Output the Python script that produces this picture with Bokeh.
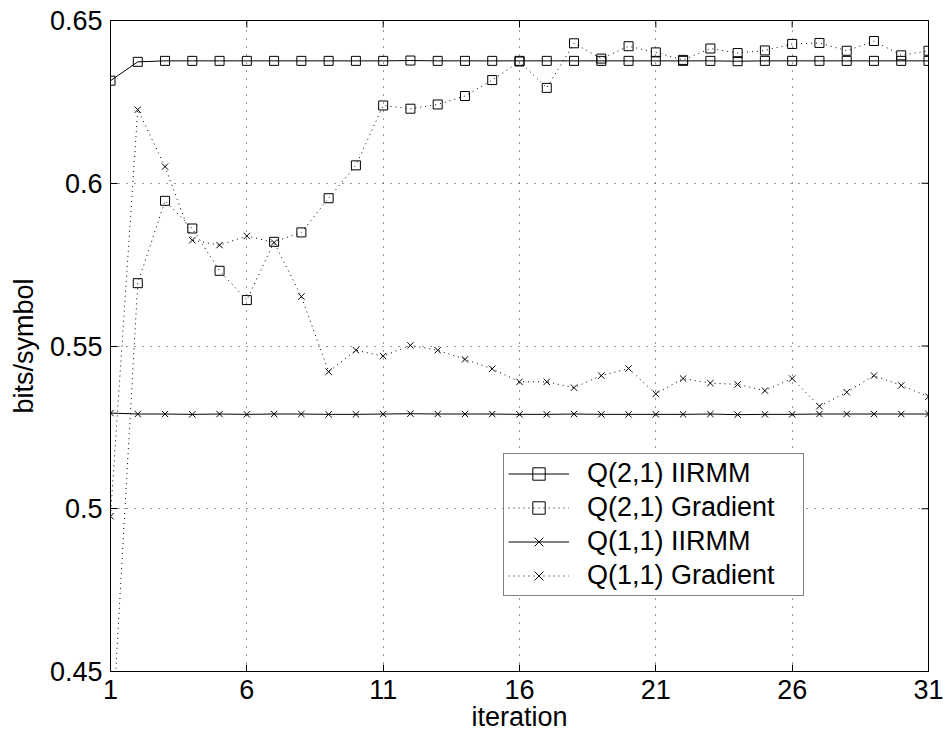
import math
from bokeh.plotting import figure
from bokeh.models import (FixedTicker, CustomJSTickFormatter, Legend, LegendItem, Range1d)
from bokeh.embed import file_html
from bokeh.resources import INLINE

# ---- data ----
iterations = list(range(1, 32))
x_ticks = [1, 6, 11, 16, 21, 26, 31]
y_ticks = [0.45, 0.5, 0.55, 0.6, 0.65]

q21_iirmm = [0.6315, 0.6373, 0.6376, 0.6376, 0.6376, 0.6376, 0.6376, 0.6376,
             0.6376, 0.6376, 0.6376, 0.6377, 0.6376, 0.6376, 0.6376, 0.6376,
             0.6376, 0.6376, 0.6376, 0.6376, 0.6376, 0.6376, 0.6376, 0.6375,
             0.6376, 0.6376, 0.6376, 0.6376, 0.6376, 0.6376, 0.6376]
q21_grad = [0.4217, 0.5693, 0.5946, 0.5861, 0.5731, 0.5641, 0.5820, 0.5849,
            0.5954, 0.6055, 0.6239, 0.6229, 0.6242, 0.6268, 0.6317, 0.6374,
            0.6293, 0.6430, 0.6383, 0.6421, 0.6402, 0.6379, 0.6414, 0.6400,
            0.6408, 0.6428, 0.6431, 0.6407, 0.6437, 0.6393, 0.6407]
q11_iirmm = [0.5294, 0.5291, 0.5291, 0.5290, 0.5291, 0.5290, 0.5291, 0.5291,
             0.5290, 0.5290, 0.5291, 0.5292, 0.5291, 0.5291, 0.5291, 0.5290,
             0.5290, 0.5291, 0.5290, 0.5290, 0.5290, 0.5290, 0.5291, 0.5289,
             0.5290, 0.5290, 0.5291, 0.5291, 0.5291, 0.5291, 0.5291]
q11_grad = [0.4977, 0.6226, 0.6051, 0.5825, 0.5810, 0.5838, 0.5818, 0.5652,
            0.5421, 0.5487, 0.5469, 0.5502, 0.5487, 0.5459, 0.5430, 0.5390,
            0.5390, 0.5372, 0.5409, 0.5431, 0.5353, 0.5400, 0.5386, 0.5382,
            0.5363, 0.5400, 0.5315, 0.5358, 0.5409, 0.5379, 0.5344]

labels = ["Q(2,1) IIRMM", "Q(2,1) Gradient", "Q(1,1) IIRMM", "Q(1,1) Gradient"]

FONT = "Liberation Sans"
FS = "27px"

x_lo, x_hi = x_ticks[0], x_ticks[-1]
y_lo, y_hi = y_ticks[0], y_ticks[-1]

p = figure(width=943, height=734, x_range=Range1d(x_lo, x_hi), y_range=Range1d(y_lo, y_hi),
           output_backend="svg", toolbar_location=None,
           min_border_left=110, min_border_right=15, min_border_top=20,
           min_border_bottom=60)

p.background_fill_color = "white"
p.border_fill_color = "white"
p.outline_line_color = "black"
p.outline_line_width = 1

# axes
for ax in (p.xaxis[0], p.yaxis[0]):
    ax.major_label_text_font = FONT
    ax.major_label_text_font_size = FS
    ax.major_label_text_color = "black"
    ax.axis_label_text_font = FONT
    ax.axis_label_text_font_size = FS
    ax.axis_label_text_font_style = "normal"
    ax.axis_label_text_color = "black"
    ax.major_tick_in = 7
    ax.major_tick_out = 0
    ax.minor_tick_line_color = None
    ax.axis_line_color = "black"
    ax.major_tick_line_color = "black"

p.xaxis.ticker = FixedTicker(ticks=x_ticks)
p.yaxis.ticker = FixedTicker(ticks=y_ticks)
p.yaxis.formatter = CustomJSTickFormatter(code="return String(Math.round(tick*100)/100);")
p.xaxis.axis_label = "iteration"
p.yaxis.axis_label = "bits/symbol"
p.xaxis.major_label_standoff = 8
p.xaxis.axis_label_standoff = 0
p.yaxis.major_label_standoff = 8
p.yaxis.axis_label_standoff = 8

# grid
p.xgrid.ticker = FixedTicker(ticks=x_ticks)
p.ygrid.ticker = FixedTicker(ticks=y_ticks)
for g in (p.xgrid[0], p.ygrid[0]):
    g.grid_line_color = "#333333"
    g.grid_line_dash = "1 7"
    g.grid_line_width = 1

# inward box ticks on the top and right edges (clipped to the frame)
p.scatter(x_ticks, [y_hi] * len(x_ticks), marker="dash", size=14, angle=math.pi / 2,
          line_color="black", line_width=1)
p.scatter([x_hi] * len(y_ticks), y_ticks, marker="dash", size=14,
          line_color="black", line_width=1)

# series
r1 = p.line(iterations, q21_iirmm, line_color="black", line_width=1)
s1 = p.scatter(iterations, q21_iirmm, marker="square", size=9, fill_color=None,
               line_color="black", line_width=1)
r2 = p.line(iterations, q21_grad, line_color="black", line_width=1, line_dash="1 4")
s2 = p.scatter(iterations, q21_grad, marker="square", size=9, fill_color=None,
               line_color="black", line_width=1)
r3 = p.line(iterations, q11_iirmm, line_color="black", line_width=1)
s3 = p.scatter(iterations, q11_iirmm, marker="x", size=9, line_color="black", line_width=1)
r4 = p.line(iterations, q11_grad, line_color="black", line_width=1, line_dash="1 4")
s4 = p.scatter(iterations, q11_grad, marker="x", size=9, line_color="black", line_width=1)

legend = Legend(items=[LegendItem(label=labels[0], renderers=[r1, s1]),
                       LegendItem(label=labels[1], renderers=[r2, s2]),
                       LegendItem(label=labels[2], renderers=[r3, s3]),
                       LegendItem(label=labels[3], renderers=[r4, s4])],
                location=(393, 75))
legend.label_text_font = FONT
legend.label_text_font_size = FS
legend.label_text_color = "black"
legend.border_line_color = "black"
legend.border_line_width = 1.5
legend.background_fill_color = "white"
legend.background_fill_alpha = 1
legend.padding = 4
legend.spacing = 3
legend.glyph_width = 61
legend.glyph_height = 31
legend.label_height = 31
legend.label_standoff = 18
legend.label_width = 212
legend.margin = 0
p.add_layout(legend)

open("out.html", "w").write(file_html(p, INLINE))
